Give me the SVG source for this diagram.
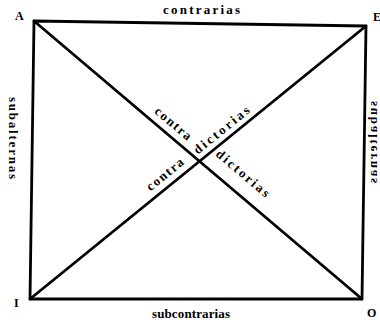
<svg xmlns="http://www.w3.org/2000/svg" width="380" height="322" viewBox="0 0 380 322">
<style>
.ln{stroke:#000;stroke-width:2.8;fill:none;stroke-linecap:round;stroke-linejoin:round}
.lab{font-family:"Liberation Serif","DejaVu Serif",serif;font-size:13px;font-weight:bold;fill:#000}
.dg{font-family:"Liberation Serif","DejaVu Serif",serif;font-size:13px;font-weight:bold;fill:#000;text-anchor:middle}
.cor{font-family:"Liberation Serif","DejaVu Serif",serif;font-size:12px;font-weight:bold;fill:#000}
</style>
<rect width="380" height="322" fill="#fff"/>
<g id="connectors">
<path class="ln" d="M34,21 L366,26 L362,299 L30,299 Z"/>
<line class="ln" x1="34" y1="21" x2="362" y2="299"/>
<line class="ln" x1="30" y1="299" x2="366" y2="26"/>
</g>
<g id="A"><text class="cor" x="15" y="20">A</text></g>
<g id="E"><text class="cor" x="373" y="21">E</text></g>
<g id="I"><text class="cor" x="14" y="307">I</text></g>
<g id="O"><text class="cor" x="367" y="317">O</text></g>
<g id="labels">
<text class="lab" x="163" y="14" textLength="77" lengthAdjust="spacing">contrarias</text>
<text class="lab" x="152" y="318" textLength="78" lengthAdjust="spacing">subcontrarias</text>
<text class="lab" transform="translate(9,97) rotate(90)" textLength="82" lengthAdjust="spacing">subalternas</text>
<text class="lab" transform="translate(377,101) rotate(90) scale(1,-1)" textLength="82" lengthAdjust="spacing">subalternas</text>
<text class="dg" transform="translate(166,132) rotate(40.3)" y="-7" textLength="44" lengthAdjust="spacing">contra</text>
<text class="dg" transform="translate(228,138) rotate(-39.1)" y="-6" textLength="68" lengthAdjust="spacing">dictorias</text>
<text class="dg" transform="translate(172,183) rotate(-39.1)" y="-7" textLength="44" lengthAdjust="spacing">contra</text>
<text class="dg" transform="translate(233,185) rotate(40.3)" y="-11" textLength="66" lengthAdjust="spacing">dictorias</text>
</g>
</svg>
